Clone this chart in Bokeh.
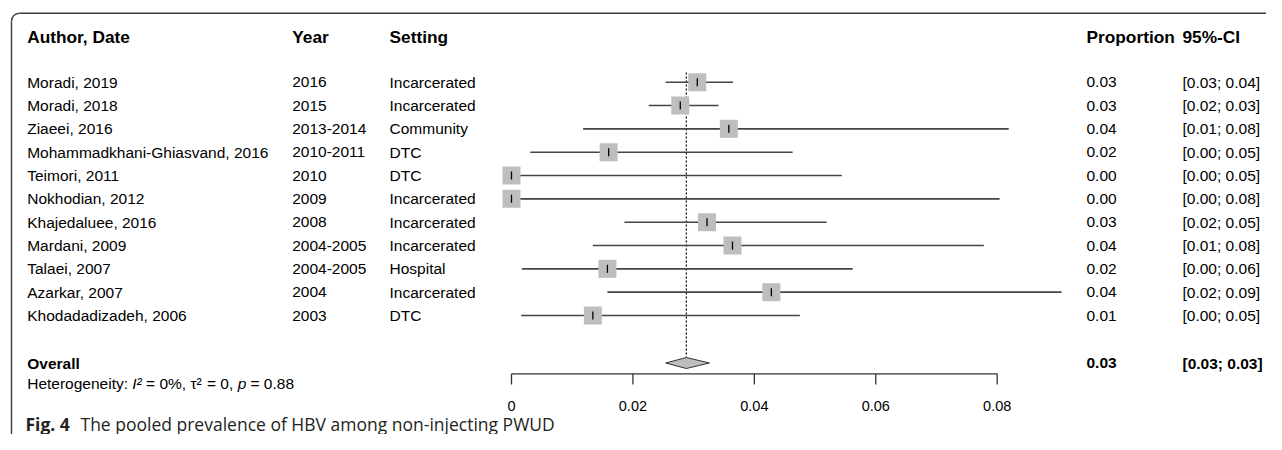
import numpy as np
from bokeh.plotting import figure
from bokeh.models import Range1d
from bokeh.core.properties import value
from bokeh.embed import file_html
from bokeh.resources import INLINE

# ---------------- data ----------------
authors = ["Moradi, 2019", "Moradi, 2018", "Ziaeei, 2016", "Mohammadkhani-Ghiasvand, 2016",
           "Teimori, 2011", "Nokhodian, 2012", "Khajedaluee, 2016", "Mardani, 2009",
           "Talaei, 2007", "Azarkar, 2007", "Khodadadizadeh, 2006"]
years = ["2016", "2015", "2013-2014", "2010-2011", "2010", "2009", "2008",
         "2004-2005", "2004-2005", "2004", "2003"]
settings = ["Incarcerated", "Incarcerated", "Community", "DTC", "DTC", "Incarcerated",
            "Incarcerated", "Incarcerated", "Hospital", "Incarcerated", "DTC"]
proportion = [0.0306, 0.0278, 0.0358, 0.0160, 0.0, 0.0, 0.0322, 0.0364, 0.0158, 0.0428, 0.0134]
lower = [0.0254, 0.0226, 0.0118, 0.0031, 0.0, 0.0, 0.0186, 0.0134, 0.0017, 0.0158, 0.0016]
upper = [0.0365, 0.0341, 0.0819, 0.0463, 0.0544, 0.0804, 0.0519, 0.0778, 0.0562, 0.0906, 0.0475]
prop_labels = ["0.03", "0.03", "0.04", "0.02", "0.00", "0.00", "0.03", "0.04", "0.02", "0.04", "0.01"]
ci_labels = ["[0.03; 0.04]", "[0.02; 0.03]", "[0.01; 0.08]", "[0.00; 0.05]", "[0.00; 0.05]",
             "[0.00; 0.08]", "[0.02; 0.05]", "[0.01; 0.08]", "[0.00; 0.06]", "[0.02; 0.09]",
             "[0.00; 0.05]"]
overall_est = 0.0288
overall_lower = 0.0254
overall_upper = 0.0326
overall_prop_label = "0.03"
overall_ci_label = "[0.03; 0.03]"
headers = ["Author, Date", "Year", "Setting", "Proportion", "95%-CI"]
ticks = [0.0, 0.02, 0.04, 0.06, 0.08]
tick_labels = ["0", "0.02", "0.04", "0.06", "0.08"]

# ---------------- layout ----------------
W, H = 1266, 434
PX0 = 511.0          # canvas x of value 0
PX_PER = 6071.0      # pixels per unit
xa = -PX0 / PX_PER
xb = xa + W / PX_PER

FONT = value("Liberation Sans")
p = figure(width=W, height=H, x_range=Range1d(xa, xb), y_range=Range1d(H, 0),
           output_backend="svg", toolbar_location=None, min_border=0,
           x_axis_location=None, y_axis_location=None)
p.grid.visible = False
p.outline_line_color = None
p.background_fill_color = "white"
p.extra_x_ranges = {"px": Range1d(0, W)}

n = len(authors)
row_y = [81.7 + i * 23.33 for i in range(n)]
col_author, col_year, col_setting, col_prop, col_ci = 26.7, 291.7, 389, 1086, 1182
header_y = 36.7
overall_y = 362.5
het_y = 383.3
axis_y = 373.3
caption_y = 423.0

# frame (top + left with rounded corner)
r = 8
fx0, fy0 = 11.0, 12.7
p.segment(x0=[fx0 + r, fx0], y0=[fy0, fy0 + r], x1=[W + 5, fx0], y1=[fy0, H + 5],
          x_range_name="px", line_color="#3c3c3c", line_width=1.4)
p.arc(x=[fx0 + r], y=[fy0 + r], radius=r, radius_units="data", start_angle=np.pi / 2,
      end_angle=np.pi, direction="anticlock", x_range_name="px",
      line_color="#3c3c3c", line_width=1.4)

# header
hx = [col_author, col_year, col_setting, col_prop, col_ci]
p.text(x=hx, y=[header_y] * 5, text=headers, x_range_name="px", text_font=FONT,
       text_font_size="17.3px", text_font_style="bold", text_baseline="middle", text_color="black")

# study rows text
common = dict(x_range_name="px", text_font=FONT, text_font_size="15.5px",
              text_baseline="middle", text_color="black")
p.text(x=[col_author] * n, y=row_y, text=authors, **common)
p.text(x=[col_year] * n, y=row_y, text=years, **common)
p.text(x=[col_setting] * n, y=row_y, text=settings, **common)
p.text(x=[col_prop] * n, y=row_y, text=prop_labels, **common)
p.text(x=[col_ci] * n, y=row_y, text=ci_labels, **common)

# overall text
p.text(x=[col_author, col_prop, col_ci], y=[overall_y] * 3,
       text=["Overall", overall_prop_label, overall_ci_label], x_range_name="px",
       text_font=FONT, text_font_size="15.5px", text_font_style="bold",
       text_baseline="middle", text_color="black")

# heterogeneity line (pieces for italics)
het_parts = ["Heterogeneity:", "I\u00b2", "= 0%, \u03c4\u00b2", "= 0,", "p", "= 0.88"]
het_x = [col_author, 131.8, 145.6, 206.5, 237.2, 250.0]
het_style = ["normal", "italic", "normal", "normal", "italic", "normal"]
for t, xx, st in zip(het_parts, het_x, het_style):
    p.text(x=[xx], y=[het_y], text=[t], x_range_name="px", text_font=FONT,
           text_font_size="15.5px", text_font_style=st, text_baseline="middle",
           text_color="black")

# reference (dotted) line at overall estimate
p.segment(x0=[overall_est], y0=[72], x1=[overall_est], y1=[overall_y - 6],
          line_color="black", line_width=1.2, line_dash="2 2")

# confidence intervals, squares, estimate ticks
p.segment(x0=lower, y0=row_y, x1=upper, y1=row_y, line_color="#454545", line_width=1.6)
p.rect(x=proportion, y=row_y, width=18, height=18, width_units="screen",
       height_units="screen", fill_color="#BEBEBE", line_color=None)
p.scatter(x=proportion, y=row_y, marker="dash", angle=np.pi / 2, size=8,
          line_color="black", line_width=1.3)

# overall diamond
p.patch(x=[overall_lower, overall_est, overall_upper, overall_est],
        y=[overall_y, overall_y - 5.5, overall_y, overall_y + 5.5],
        fill_color="#BEBEBE", line_color="#333333", line_width=1)

# x axis (drawn inside the panel)
p.segment(x0=[ticks[0]], y0=[axis_y], x1=[ticks[-1]], y1=[axis_y], line_color="#333333", line_width=1.3)
p.segment(x0=ticks, y0=[axis_y] * len(ticks), x1=ticks, y1=[axis_y + 10.7] * len(ticks),
          line_color="#333333", line_width=1.3)
p.text(x=ticks, y=[405] * len(ticks), text=tick_labels, text_font=FONT, text_font_size="14.5px",
       text_align="center", text_baseline="middle", text_color="black")

# caption
p.text(x=[25], y=[caption_y], text=["Fig. 4"], x_range_name="px", text_font=value("Open Sans"),
       text_font_size="17.5px", text_font_style="bold", text_baseline="middle", text_color="#231F20")
p.text(x=[80], y=[caption_y], text=["The pooled prevalence of HBV among non-injecting PWUD"],
       x_range_name="px", text_font=value("Open Sans"), text_font_size="17.5px",
       text_baseline="middle", text_color="#231F20")

open("out.html", "w").write(file_html(p, INLINE))
